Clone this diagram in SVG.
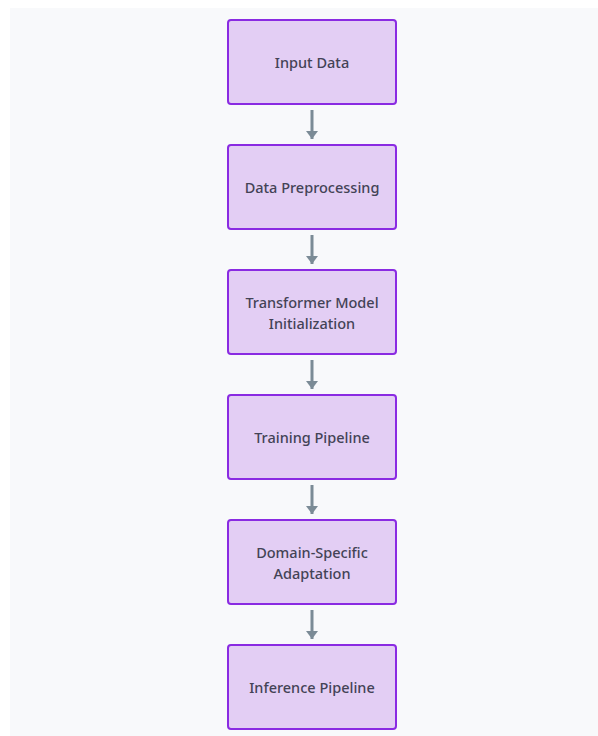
<svg xmlns="http://www.w3.org/2000/svg" width="598" height="736" viewBox="0 0 598 736">
<style>
.node rect{fill:#e3cef4;stroke:#8a2be2;stroke-width:2}
.node text{font-family:"Noto Sans","Liberation Sans",sans-serif;font-size:14.5px;font-weight:500;fill:#434356;text-anchor:middle}
.edges line{stroke:#7b8b96;stroke-width:3}
</style>
<defs>
<marker id="ah" viewBox="0 0 8 12" refX="8" refY="6" markerUnits="userSpaceOnUse" markerWidth="8" markerHeight="12" orient="auto">
<path d="M0,0 L8,6 L0,12 Z" fill="#7b8b96"/>
</marker>
</defs>
<rect x="10" y="8" width="588" height="728" fill="#f8f9fb"/>
<g class="edges">
<line x1="312" y1="110" x2="312" y2="139" marker-end="url(#ah)"/>
<line x1="312" y1="235" x2="312" y2="264" marker-end="url(#ah)"/>
<line x1="312" y1="360" x2="312" y2="389" marker-end="url(#ah)"/>
<line x1="312" y1="485" x2="312" y2="514" marker-end="url(#ah)"/>
<line x1="312" y1="610" x2="312" y2="639" marker-end="url(#ah)"/>
</g>
<g id="input-data" class="node"><rect x="228" y="20" width="168" height="84" rx="3"/><text x="312" y="67.5">Input Data</text></g>
<g id="data-preprocessing" class="node"><rect x="228" y="145" width="168" height="84" rx="3"/><text x="312" y="192.5">Data Preprocessing</text></g>
<g id="transformer-init" class="node"><rect x="228" y="270" width="168" height="84" rx="3"/><text x="312" y="307.5">Transformer Model</text><text x="312" y="328.5">Initialization</text></g>
<g id="training-pipeline" class="node"><rect x="228" y="395" width="168" height="84" rx="3"/><text x="312" y="442.5">Training Pipeline</text></g>
<g id="domain-adaptation" class="node"><rect x="228" y="520" width="168" height="84" rx="3"/><text x="312" y="557.5">Domain-Specific</text><text x="312" y="578.5">Adaptation</text></g>
<g id="inference-pipeline" class="node"><rect x="228" y="645" width="168" height="84" rx="3"/><text x="312" y="692.5">Inference Pipeline</text></g>
</svg>
